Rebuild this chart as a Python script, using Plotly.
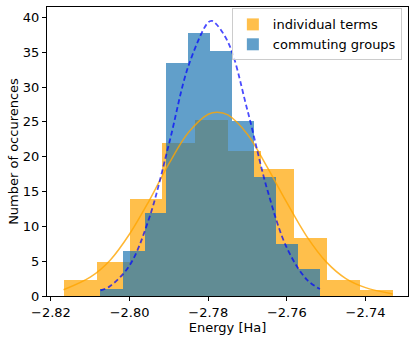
import numpy as np
import plotly.graph_objects as go

# histogram bins (density heights)
indiv_edges = [-2.8168, -2.8084, -2.8000, -2.7917, -2.7833, -2.7749,
               -2.7666, -2.7582, -2.7498, -2.7415, -2.7331]
indiv_heights = [2.3, 4.9, 13.9, 21.9, 25.3, 20.8, 18.3, 8.3, 2.3, 0.9]

group_edges = [-2.8074, -2.8018, -2.7962, -2.7907, -2.7851, -2.7795,
               -2.7740, -2.7684, -2.7628, -2.7572, -2.7516]
group_heights = [1.0, 6.4, 11.9, 33.4, 37.7, 35.2, 25.1, 17.1, 7.5, 3.9]

# fitted curves
indiv_fit_x = [-2.8168, -2.810, -2.805, -2.800, -2.795, -2.790, -2.785, -2.780,
               -2.7777, -2.775, -2.770, -2.765, -2.760, -2.755, -2.750, -2.745,
               -2.740, -2.7331]
indiv_fit_y = [0.9, 2.7, 5.1, 8.9, 13.7, 19.0, 23.5, 26.1,
               26.4, 26.0, 23.2, 18.5, 13.4, 8.6, 4.9, 2.5,
               1.2, 0.3]

group_fit_x = [-2.8074, -2.805, -2.800, -2.795, -2.790, -2.785, -2.780, -2.779,
               -2.775, -2.770, -2.765, -2.760, -2.755, -2.7516]
group_fit_y = [0.8, 1.4, 4.4, 11.2, 21.8, 33.1, 39.3, 39.5,
               36.5, 26.6, 15.3, 6.9, 2.4, 1.0]

x_ticks = [-2.82, -2.80, -2.78, -2.76, -2.74]
y_ticks = [0, 5, 10, 15, 20, 25, 30, 35, 40]

font = "DejaVu Sans"
fs = 13

fig = go.Figure()
fig.add_trace(go.Bar(
    x=indiv_edges[:-1], y=indiv_heights, width=np.diff(indiv_edges), offset=0,
    marker=dict(color="#FFA500", line=dict(width=0)), opacity=0.7,
    name="individual terms"))
fig.add_trace(go.Bar(
    x=group_edges[:-1], y=group_heights, width=np.diff(group_edges), offset=0,
    marker=dict(color="#1f77b4", line=dict(width=0)), opacity=0.7,
    name="commuting groups"))
fig.add_trace(go.Scatter(
    x=indiv_fit_x, y=indiv_fit_y, mode="lines", showlegend=False,
    line=dict(color="rgba(255,165,0,0.8)", width=1.5, shape="spline")))
fig.add_trace(go.Scatter(
    x=group_fit_x, y=group_fit_y, mode="lines", showlegend=False,
    line=dict(color="rgba(0,0,255,0.7)", width=1.8, dash="5px,3px", shape="spline")))

axis_style = dict(showgrid=False, zeroline=False, showline=True, linecolor="black",
                  linewidth=1, mirror=True, ticks="outside", ticklen=4, tickwidth=1,
                  tickcolor="black", tickfont=dict(family=font, size=fs, color="black"))

fig.update_layout(
    width=416, height=340,
    margin=dict(l=47, r=8, t=7, b=44),
    plot_bgcolor="white", paper_bgcolor="white",
    barmode="overlay", bargap=0,
    font=dict(family=font, size=fs, color="black"),
    xaxis=dict(range=[-2.8210, -2.7292], tickvals=x_ticks,
               ticktext=["\u22122.82", "\u22122.80", "\u22122.78", "\u22122.76", "\u22122.74"],
               title=dict(text="Energy [Ha]", standoff=4, font=dict(size=fs)),
               **axis_style),
    yaxis=dict(range=[0, 41.5], tickvals=y_ticks,
               title=dict(text="Number of occurences", standoff=1, font=dict(size=fs)),
               **axis_style),
    legend=dict(x=0.983, y=0.995, xanchor="right", yanchor="top",
                bgcolor="rgba(255,255,255,0.8)", bordercolor="#cccccc", borderwidth=1,
                font=dict(family=font, size=fs), tracegroupgap=0),
)

# page has a default 8px body margin; drop it so the figure sits at the corner
fig.write_html("out.html", config={"displayModeBar": False},
               post_script="document.body.style.margin='0';")
